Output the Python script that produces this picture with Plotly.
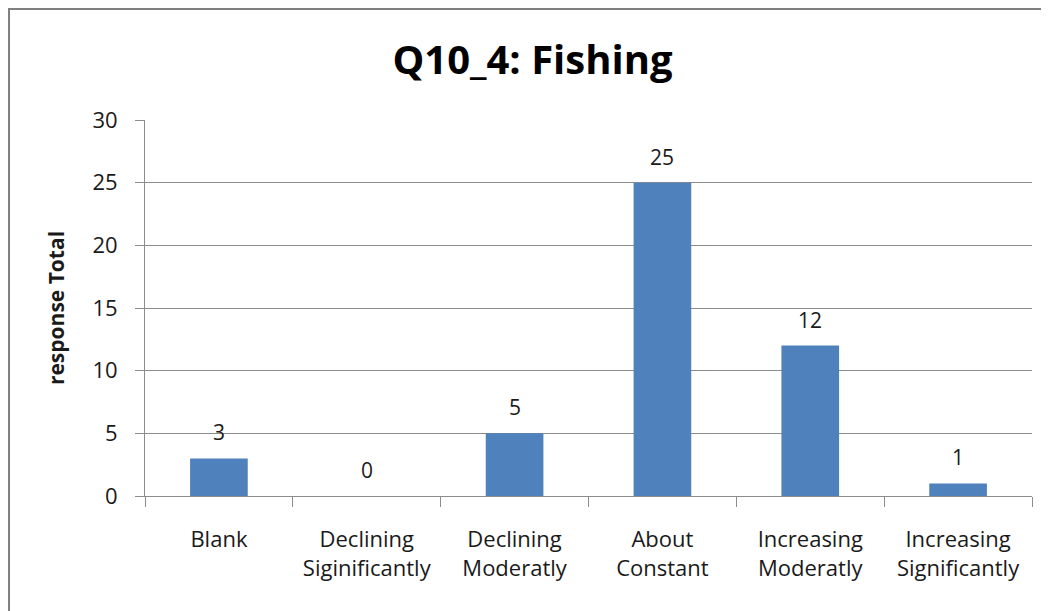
import plotly.graph_objects as go

# categories and response counts
categories = ["Blank", "Declining<br>Siginificantly", "Declining<br>Moderatly",
              "About<br>Constant", "Increasing<br>Moderatly", "Increasing<br>Significantly"]
totals = [3, 0, 5, 25, 12, 1]
y_ticks = [0, 5, 10, 15, 20, 25, 30]

font_family = "'Open Sans', Lato, sans-serif"
grey = "#8c8c8c"

fig = go.Figure()
fig.add_trace(go.Bar(
    x=categories, y=totals,
    marker=dict(color="#4F81BD", line=dict(width=0)),
    showlegend=False,
))

# value labels above the bars
for cat, val in zip(categories, totals):
    fig.add_annotation(x=cat, y=val, text=str(val), showarrow=False,
                       yanchor="bottom", yshift=10,
                       font=dict(size=21, color="#1a1a1a", family=font_family))

fig.update_layout(
    width=1049, height=611,
    margin=dict(l=137, r=25, t=112, b=123),
    paper_bgcolor="white", plot_bgcolor="white",
    bargap=0.61,
    showlegend=False,
    title=dict(text="<b>Q10_4: Fishing</b>", x=0.5, xanchor="center",
               y=0.915, yanchor="middle",
               font=dict(size=40, color="black", family=font_family)),
    font=dict(family=font_family, color="#1a1a1a"),
)

fig.update_xaxes(
    tickson="boundaries", ticks="outside", ticklen=10, tickcolor=grey,
    showline=True, linecolor=grey, linewidth=1,
    tickfont=dict(size=22), showgrid=False, ticklabelstandoff=24,
)
fig.update_yaxes(
    range=[0, 30], tickvals=y_ticks, ticks="outside", ticklen=9, tickcolor=grey,
    showline=True, linecolor=grey, linewidth=1,
    showgrid=True, gridcolor=grey, gridwidth=1,
    tickfont=dict(size=22), zeroline=False, ticklabelstandoff=13,
    title=dict(text="<b>response Total</b>", font=dict(size=21), standoff=22),
)

# outer chart border
fig.add_shape(type="rect", xref="paper", yref="paper",
              x0=-0.1533, y0=-0.5, x1=1.05, y1=1.2952,
              line=dict(color="#7f7f7f", width=2), layer="below")

fig.write_html("out.html")
